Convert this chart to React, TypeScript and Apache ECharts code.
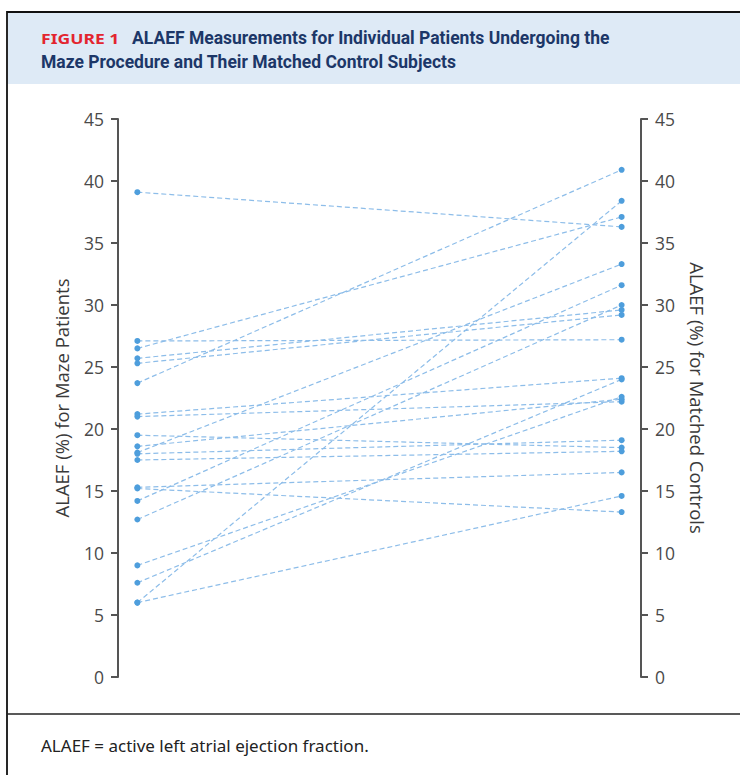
import React, { useEffect, useRef } from "react";
import * as echarts from "echarts";

// ALAEF (%) for each Maze patient (left) and matched control (right)
const mazePatients = [39.1, 27.1, 26.5, 25.7, 25.3, 23.7, 21.2, 21.0, 19.5, 18.6, 18.1, 18.0, 17.5, 15.3, 15.2, 14.2, 12.7, 9.0, 7.6, 6.0, 6.0];
const matchedControls = [36.3, 27.2, 37.1, 29.6, 29.2, 40.9, 24.1, 22.2, 18.5, 22.4, 33.3, 19.1, 18.2, 16.5, 13.3, 31.6, 30.0, 22.6, 24.0, 38.4, 14.6];
const groups = [0, 1]; // x positions: Maze patients, matched controls

const titleLabel = "FIGURE 1";
const titleLine1 = "ALAEF Measurements for Individual Patients Undergoing the";
const titleLine2 = "Maze Procedure and Their Matched Control Subjects";
const leftAxisName = "ALAEF (%) for Maze Patients";
const rightAxisName = "ALAEF (%) for Matched Controls";
const footnote = "ALAEF = active left atrial ejection fraction.";

const LINE_COLOR = "#8dbde9";
const POINT_COLOR = "#4e9edc";
const AXIS_COLOR = "#555555";

export default function App() {
  const ref = useRef<HTMLDivElement>(null);
  useEffect(() => {
    if (!ref.current) return;
    const chart = echarts.init(ref.current, undefined, { renderer: "svg" });
    const series = mazePatients.map((v, i) => ({
      type: "line",
      xAxisIndex: 0,
      yAxisIndex: 0,
      data: [
        [groups[0], v],
        [groups[1], matchedControls[i]],
      ],
      symbol: "circle",
      symbolSize: 6,
      itemStyle: { color: POINT_COLOR },
      lineStyle: { color: LINE_COLOR, width: 1.2, type: [5, 3] },
      silent: true,
      z: 2,
    }));
    const axisCommon = {
      type: "value",
      min: 0,
      max: 45,
      interval: 5,
      axisLine: { show: true, onZero: false, lineStyle: { color: AXIS_COLOR, width: 2 } },
      axisTick: { show: true, inside: false, length: 7, lineStyle: { color: AXIS_COLOR, width: 2 } },
      splitLine: { show: false },
      axisLabel: { color: "#4a4a4a", fontSize: 17.5, fontFamily: "Open Sans", margin: 14 },
      nameLocation: "middle",
      nameTextStyle: { color: "#3a3a3a", fontSize: 18.5, fontFamily: "Open Sans" },
    };
    chart.setOption({
      animation: false,
      backgroundColor: "#ffffff",
      grid: { left: 118, right: 99, top: 119, bottom: 98, containLabel: false },
      xAxis: {
        type: "value",
        min: -0.04,
        max: 1.04,
        show: false,
      },
      yAxis: [
        { ...axisCommon, position: "left", name: leftAxisName, nameRotate: 90, nameGap: 47 },
        { ...axisCommon, position: "right", name: rightAxisName, nameRotate: -90, nameGap: 47 },
      ],
      graphic: [
        { type: "rect", shape: { x: 8, y: 12, width: 760, height: 72 }, style: { fill: "#deeaf6" }, z: 0 },
        { type: "rect", shape: { x: 7, y: 12, width: 780, height: 820 }, style: { fill: "none", stroke: "#111111", lineWidth: 1.8 }, z: 5 },
        { type: "line", shape: { x1: 7, y1: 714, x2: 760, y2: 714 }, style: { stroke: "#222222", lineWidth: 1.5 }, z: 5 },
        {
          type: "text", x: 41, y: 38, scaleX: 1.17,
          style: { text: titleLabel, fill: "#e3252f", font: "bold 15px 'Noto Sans'", textVerticalAlign: "middle" },
        },
        {
          type: "text", x: 132, y: 38,
          style: { text: titleLine1, fill: "#1c3768", font: "bold 17.5px Roboto", textVerticalAlign: "middle" },
        },
        {
          type: "text", x: 41, y: 62,
          style: { text: titleLine2, fill: "#1c3768", font: "bold 17.5px Roboto", textVerticalAlign: "middle" },
        },
        {
          type: "text", x: 41, y: 745,
          style: { text: footnote, fill: "#222222", font: "17px 'Noto Sans'", textVerticalAlign: "middle" },
        },
      ],
      series,
    });
    return () => chart.dispose();
  }, []);
  return <div ref={ref} style={{ position: "absolute", left: 0, top: 0, width: 740, height: 775 }} />;
}
